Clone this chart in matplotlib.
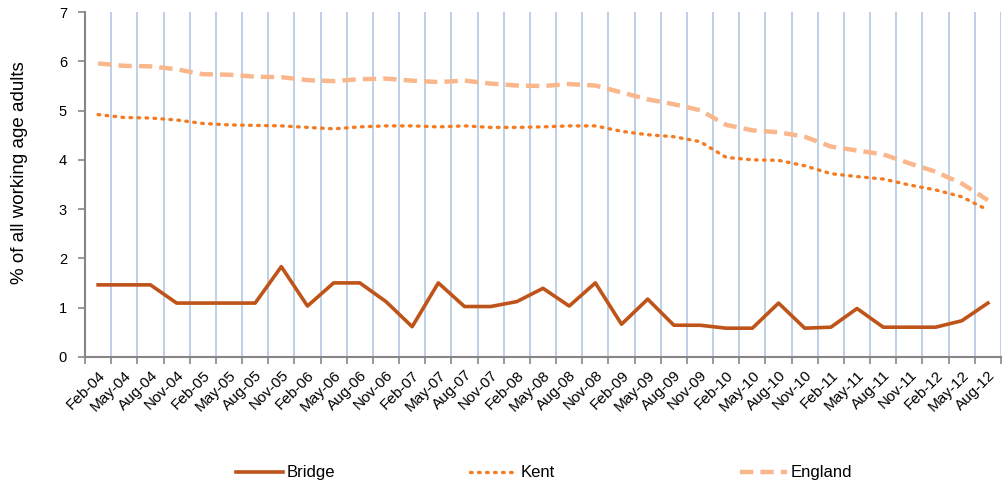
import numpy as np
import matplotlib
matplotlib.use("Agg")
import matplotlib.pyplot as plt

# ----------------------------
# Data
# ----------------------------

months = ["Feb", "May", "Aug", "Nov"]
labels = [f"{m}-{y:02d}" for y in range(4, 13) for m in months][:35]

bridge = [1.46, 1.46, 1.46, 1.09, 1.09, 1.09, 1.09, 1.83, 1.03, 1.50,
          1.50, 1.12, 0.61, 1.50, 1.02, 1.02, 1.12, 1.39, 1.03, 1.50,
          0.66, 1.17, 0.64, 0.64, 0.58, 0.58, 1.09, 0.58, 0.60, 0.98,
          0.60, 0.60, 0.60, 0.73, 1.09]

kent = [4.92, 4.86, 4.85, 4.81, 4.74, 4.71, 4.70, 4.69, 4.66, 4.63,
        4.67, 4.69, 4.69, 4.67, 4.69, 4.66, 4.66, 4.67, 4.69, 4.69,
        4.58, 4.51, 4.47, 4.37, 4.05, 4.00, 3.99, 3.88, 3.72, 3.66,
        3.61, 3.49, 3.39, 3.25, 2.98]

england = [5.96, 5.91, 5.90, 5.84, 5.74, 5.73, 5.69, 5.68, 5.62, 5.60,
           5.64, 5.65, 5.61, 5.58, 5.61, 5.55, 5.51, 5.50, 5.54, 5.51,
           5.37, 5.23, 5.13, 5.01, 4.71, 4.60, 4.56, 4.47, 4.27, 4.19,
           4.11, 3.93, 3.76, 3.52, 3.18]

# ----------------------------
# Plot
# ----------------------------

plt.rcParams["font.family"] = ["Liberation Sans", "DejaVu Sans"]

fig = plt.figure(figsize=(10.04, 4.88), dpi=100)
ax = fig.add_axes([0.0847, 0.269, 0.9123, 0.706])

x = np.arange(len(labels))

l1, = ax.plot(x, bridge, color="#BE5419", lw=2.6, label="Bridge", zorder=3)
l2, = ax.plot(x, kent, color="#F47B20", lw=2.4, linestyle=(0, (0.5, 1.9)),
              dash_capstyle="round", label="Kent", zorder=3)
l3, = ax.plot(x, england, color="#F9B78B", lw=3.2, linestyle=(0, (3, 1.6)),
              label="England", zorder=3)

ax.set_xlim(-0.5, len(labels) - 0.5)
ax.set_ylim(0, 7)

# category boundaries carry ticks and grid, centres carry labels
ax.set_xticks(np.arange(-0.5, len(labels), 1.0))
ax.set_xticklabels([])
ax.set_xticks(x, minor=True)
ax.set_xticklabels(labels, minor=True, rotation=45, ha="right",
                   rotation_mode="anchor", fontsize=11)
ax.tick_params(axis="x", which="minor", length=0, pad=8)
ax.tick_params(axis="x", which="major", length=5, width=1.2, color="#868686")
ax.grid(axis="x", which="major", color="#B9CDE5", lw=1.3, zorder=0)

ax.set_yticks(range(0, 8))
ax.tick_params(axis="y", length=5, width=1.2, color="#868686", labelsize=10.5, pad=8)

for side in ["top", "right"]:
    ax.spines[side].set_visible(False)
for side in ["left", "bottom"]:
    ax.spines[side].set_color("#868686")
    ax.spines[side].set_linewidth(1.5)

ax.set_ylabel("% of all working age adults", fontsize=13.5)
ax.yaxis.set_label_coords(-0.062, 0.533)

# one legend per entry so the uneven spacing of the original is kept
for line, xpos in [(l1, 0.235), (l2, 0.468), (l3, 0.737)]:
    fig.legend(handles=[line], loc="center left", bbox_to_anchor=(xpos, 0.031),
               frameon=False, fontsize=12, handlelength=2.8, handletextpad=0.25,
               borderpad=0, borderaxespad=0)

fig.savefig("out.png", dpi=100)
